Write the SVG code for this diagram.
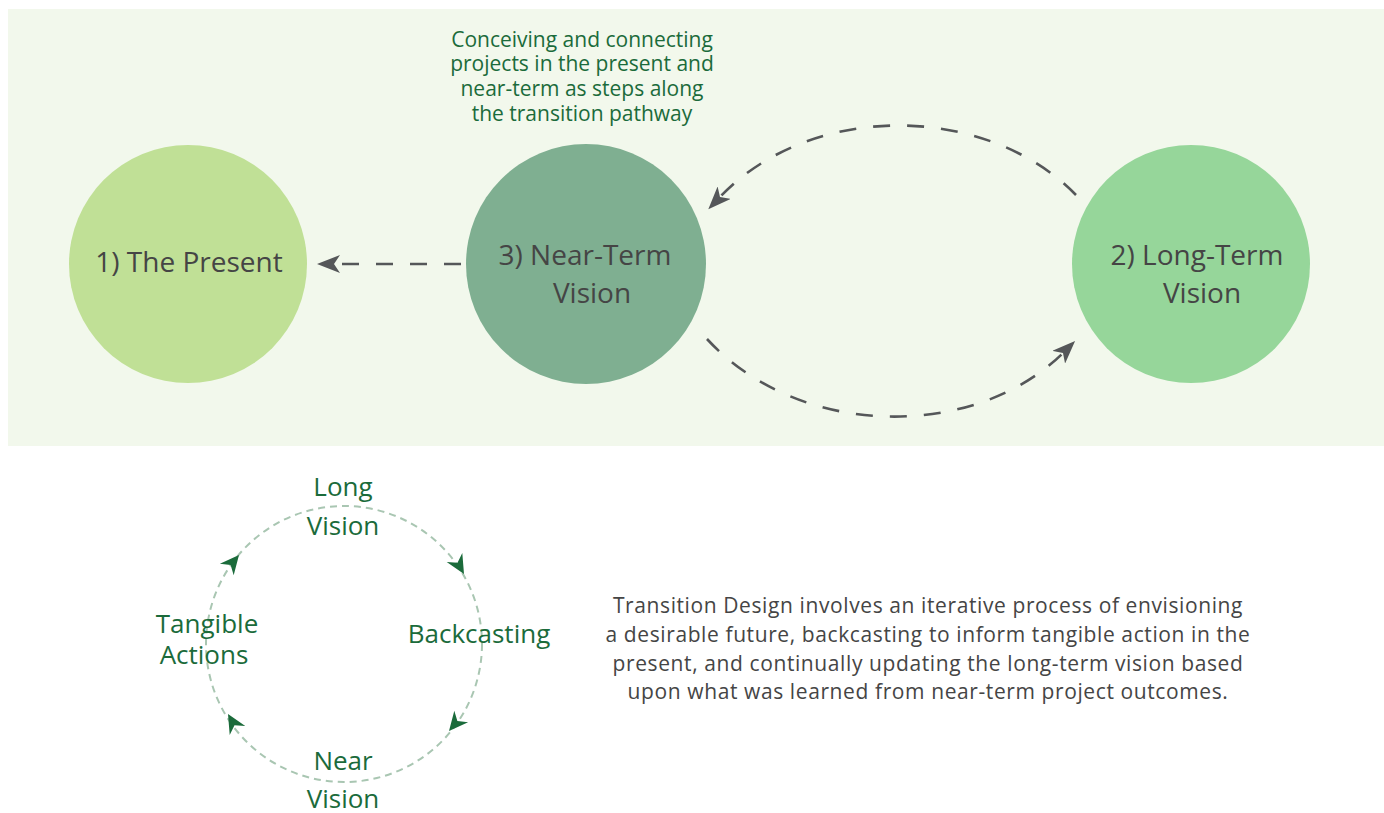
<svg xmlns="http://www.w3.org/2000/svg" width="1384" height="813" viewBox="0 0 1384 813">
  <defs>
    <style>
      .lbl { font-family: "Open Sans", "Noto Sans", sans-serif; fill: #454545; text-anchor: middle; }
      .big { font-size: 28px; }
      .desc { font-size: 21px; letter-spacing: 0.6px; }
      .note { font-family: "Open Sans", "Noto Sans", sans-serif; fill: #1b6b3b; font-size: 21px; text-anchor: middle; }
      .cyc { font-family: "Open Sans", "Noto Sans", sans-serif; fill: #1b6b3b; font-size: 26px; text-anchor: middle; }
      .dash { fill: none; stroke: #555759; stroke-width: 2.6; stroke-dasharray: 17 17; }
      .ring { fill: none; stroke: #a9c6b2; stroke-width: 2; stroke-dasharray: 7 5; }
      .ah { fill: #1b6b3b; }
    </style>
    <marker id="arr" markerUnits="userSpaceOnUse" viewBox="0 0 23 18" markerWidth="23" markerHeight="18" refX="6" refY="9" orient="auto">
      <path d="M23,9 L0,0 L6,9 L0,18 Z" fill="#555759"/>
    </marker>
    <path id="sah" d="M0,0 L-19,-9 L-13,0 L-19,9 Z"/>
  </defs>

  <rect x="8" y="9" width="1376" height="437" fill="#f2f8ec"/>

  <g id="node-present">
    <circle cx="188" cy="264" r="119" fill="#c0e096"/>
    <text class="lbl big" x="189" y="272">1) The Present</text>
  </g>
  <g id="node-near">
    <circle cx="586" cy="264" r="120" fill="#7faf91"/>
    <text class="lbl big" x="585" y="265">3) Near-Term</text>
    <text class="lbl big" x="592" y="303">Vision</text>
  </g>
  <g id="node-long">
    <circle cx="1191" cy="264" r="119" fill="#96d69a"/>
    <text class="lbl big" x="1197" y="265">2) Long-Term</text>
    <text class="lbl big" x="1202" y="303">Vision</text>
  </g>

  <g id="note">
    <text class="note" x="582" y="47">Conceiving and connecting</text>
    <text class="note" x="582" y="71">projects in the present and</text>
    <text class="note" x="582" y="96">near-term as steps along</text>
    <text class="note" x="582" y="121">the transition pathway</text>
  </g>

  <g id="connectors">
    <path class="dash" d="M461,264 L334,264" marker-end="url(#arr)"/>
    <path class="dash" d="M1076,195 C985,102 810,102 720,197" marker-end="url(#arr)"/>
    <path class="dash" d="M707,339 C800,440 975,440 1063,353" marker-end="url(#arr)"/>
  </g>

  <g id="cycle">
    <circle class="ring" cx="344" cy="644" r="138"/>
    <use href="#sah" class="ah" transform="translate(239,555) rotate(-50)"/>
    <use href="#sah" class="ah" transform="translate(464,574) rotate(60)"/>
    <use href="#sah" class="ah" transform="translate(449,731) rotate(130)"/>
    <use href="#sah" class="ah" transform="translate(228,714) rotate(-120)"/>
  </g>

  <g id="cycle-long">
    <text class="cyc" x="343" y="496">Long</text>
    <text class="cyc" x="343" y="535">Vision</text>
  </g>
  <g id="cycle-back">
    <text class="cyc" x="479" y="643">Backcasting</text>
  </g>
  <g id="cycle-near">
    <text class="cyc" x="343" y="770">Near</text>
    <text class="cyc" x="343" y="808">Vision</text>
  </g>
  <g id="cycle-tangible">
    <text class="cyc" x="207" y="633">Tangible</text>
    <text class="cyc" x="204" y="664">Actions</text>
  </g>

  <g id="description">
    <text class="lbl desc" x="928" y="613">Transition Design involves an iterative process of envisioning</text>
    <text class="lbl desc" x="928" y="642">a desirable future, backcasting to inform tangible action in the</text>
    <text class="lbl desc" x="928" y="671">present, and continually updating the long-term vision based</text>
    <text class="lbl desc" x="928" y="699">upon what was learned from near-term project outcomes.</text>
  </g>
</svg>
